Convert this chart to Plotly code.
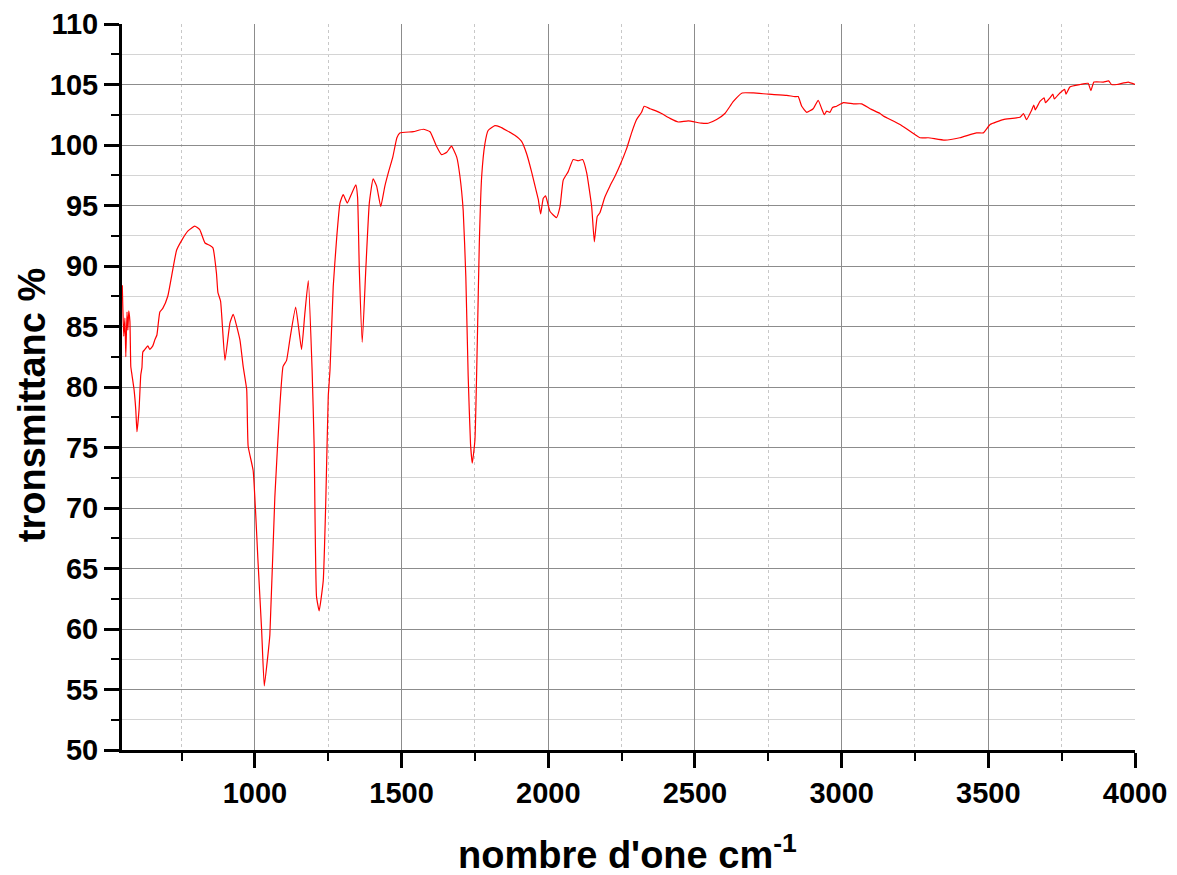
import plotly.graph_objects as go

wavenumber = [548, 550, 553, 557, 560, 564, 567, 570, 574, 577, 581, 588, 594, 598, 605, 611, 615, 618,
              625, 635, 642, 652, 659, 666, 676, 686, 703, 733, 750, 772, 795, 812, 830, 847, 857, 869,
              874, 883, 898, 915, 926, 949, 960, 972, 977, 994, 1011, 1023, 1032, 1045, 1051, 1068,
              1085, 1096, 1108, 1119, 1139, 1159, 1170, 1182, 1195, 1202, 1210, 1219, 1233, 1242, 1250,
              1256, 1267, 1279, 1290, 1301, 1315, 1330, 1344, 1350, 1356, 1366, 1378, 1390, 1403, 1415,
              1429, 1443, 1457, 1470, 1484, 1494, 1540, 1574, 1597, 1619, 1636, 1654, 1670, 1688, 1699,
              1710, 1719, 1727, 1735, 1741, 1750, 1758, 1765, 1773, 1784, 1795, 1818, 1835, 1858, 1886,
              1909, 1926, 1943, 1955, 1966, 1974, 1983, 1991, 1998, 2006, 2028, 2040, 2051, 2068, 2085,
              2102, 2117, 2131, 2148, 2157, 2167, 2176, 2193, 2210, 2227, 2244, 2267, 2284, 2301, 2318,
              2327, 2347, 2369, 2386, 2415, 2443, 2477, 2523, 2545, 2574, 2602, 2631, 2661, 2699, 2750,
              2813, 2841, 2852, 2864, 2881, 2903, 2920, 2932, 2941, 2949, 2960, 2969, 2983, 3006, 3040,
              3068, 3097, 3131, 3142, 3199, 3267, 3295, 3352, 3403, 3460, 3483, 3506, 3551, 3608, 3620,
              3630, 3648, 3655, 3660, 3676, 3690, 3695, 3710, 3720, 3725, 3744, 3760, 3765, 3778, 3813,
              3840, 3848, 3850, 3860, 3892, 3910, 3920, 3938, 3977, 4000]
transmittance = [88.4, 86.4, 84.2, 85.7, 82.5, 86.2, 84.7, 86.3, 85.4, 81.7, 81.0, 79.8, 78.1, 76.3, 78.1,
                 81.0, 81.6, 82.9, 83.1, 83.4, 83.1, 83.4, 83.9, 84.3, 86.2, 86.5, 87.5, 91.3, 92.1, 92.9,
                 93.3, 93.0, 91.9, 91.7, 91.5, 89.4, 87.8, 87.1, 82.2, 85.3, 86.0, 83.9, 81.7, 79.8, 75.1,
                 73.1, 65.4, 59.9, 55.3, 58.0, 59.5, 70.9, 78.4, 81.7, 82.2, 83.9, 86.6, 83.1, 86.0, 88.8,
                 81.4, 75.1, 62.7, 61.5, 64.0, 70.9, 79.2, 81.4, 88.3, 92.4, 95.2, 95.9, 95.2, 96.0, 96.7,
                 95.7, 89.7, 83.7, 89.7, 95.2, 97.2, 96.6, 94.9, 96.6, 97.9, 99.0, 100.6, 101.0, 101.1,
                 101.3, 101.1, 99.9, 99.2, 99.4, 99.9, 99.0, 97.4, 94.6, 89.1, 80.9, 75.3, 73.7, 75.6,
                 83.6, 91.9, 97.4, 100.1, 101.2, 101.6, 101.5, 101.2, 100.8, 100.3, 99.3, 97.8, 96.6,
                 95.5, 94.3, 95.6, 95.8, 95.2, 94.5, 94.0, 94.9, 97.1, 97.8, 98.8, 98.7, 98.8, 97.7, 94.9,
                 92.0, 94.1, 94.4, 95.7, 96.6, 97.4, 98.3, 99.7, 101.0, 102.1, 102.7, 103.2, 103.0, 102.8,
                 102.6, 102.2, 101.9, 102.0, 101.8, 101.8, 102.1, 102.6, 103.6, 104.3, 104.3, 104.2,
                 104.1, 104.0, 104.0, 103.2, 102.7, 103.0, 103.7, 103.0, 102.5, 102.8, 102.7, 103.1,
                 103.2, 103.5, 103.4, 103.4, 103.0, 102.6, 102.4, 101.7, 100.6, 100.6, 100.4, 100.6,
                 101.0, 101.0, 101.7, 102.1, 102.3, 102.6, 102.1, 102.9, 103.3, 102.9, 103.6, 103.9,
                 103.5, 103.9, 104.2, 103.8, 104.3, 104.6, 104.2, 104.8, 105.0, 105.1, 104.6, 104.5,
                 105.2, 105.2, 105.3, 105.0, 105.0, 105.2, 105.0]

x_ticks = [1000, 1500, 2000, 2500, 3000, 3500, 4000]
y_ticks = [50, 55, 60, 65, 70, 75, 80, 85, 90, 95, 100, 105, 110]
x_title = "nombre d'one cm<sup>-1</sup>"
y_title = "tronsmittanc %"

FONT = "Liberation Sans, Arial, sans-serif"

fig = go.Figure()
fig.add_trace(go.Scatter(x=wavenumber, y=transmittance, mode="lines",
                         line=dict(color="#ff0000", width=1.2, shape="spline", smoothing=0.4),
                         showlegend=False))

fig.update_layout(
    width=1177, height=875,
    margin=dict(l=122, r=42, t=24, b=125, autoexpand=False),
    paper_bgcolor="white", plot_bgcolor="white",
    font=dict(family=FONT, color="black"),
)

fig.update_xaxes(
    range=[547, 4000], tickvals=x_ticks, ticktext=[f"<b>{v}</b>" for v in x_ticks],
    tickfont=dict(size=29, family=FONT), ticks="outside", ticklen=15, tickwidth=3, tickcolor="black",
    showline=True, linewidth=3, linecolor="black", zeroline=False, automargin=False,
    showgrid=True, gridcolor="#8c8c8c", gridwidth=1,
    minor=dict(dtick=250, tick0=0, ticks="outside", ticklen=8, tickwidth=2, tickcolor="black",
               showgrid=True, gridcolor="#c8c8c8", griddash="dot", gridwidth=1),
)
fig.update_yaxes(
    range=[50, 110], tickvals=y_ticks, ticktext=[f"<b>{v}</b>" for v in y_ticks],
    tickfont=dict(size=29, family=FONT), ticks="outside", ticklen=15, tickwidth=3, tickcolor="black",
    showline=True, linewidth=3, linecolor="black", zeroline=False, automargin=False,
    showgrid=True, gridcolor="#8c8c8c", gridwidth=1,
    minor=dict(dtick=2.5, tick0=0, ticks="outside", ticklen=8, tickwidth=2, tickcolor="black",
               showgrid=True, gridcolor="#d4d4d4", gridwidth=1),
)

fig.add_annotation(text=f"<b>{x_title}</b>", xref="paper", yref="paper", x=0.4995, y=-0.1405,
                   xanchor="center", yanchor="middle", showarrow=False,
                   font=dict(size=38, family=FONT, color="black"))
fig.add_annotation(text=f"<b>{y_title}</b>", xref="paper", yref="paper", x=-0.0888, y=0.475,
                   xanchor="center", yanchor="middle", showarrow=False, textangle=-90,
                   font=dict(size=38, family=FONT, color="black"))

fig.write_html("out.html")
